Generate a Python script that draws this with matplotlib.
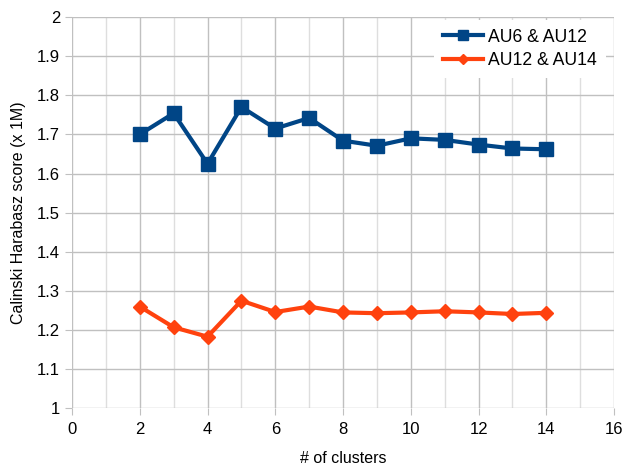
import matplotlib
matplotlib.use("Agg")
import matplotlib.pyplot as plt
from matplotlib.ticker import MultipleLocator

plt.rcParams['font.family'] = ['Liberation Sans', 'DejaVu Sans']

clusters = [2, 3, 4, 5, 6, 7, 8, 9, 10, 11, 12, 13, 14]
au6_au12 = [1.700, 1.754, 1.625, 1.770, 1.715, 1.742, 1.684, 1.671, 1.690, 1.686, 1.674, 1.664, 1.662]
au12_au14 = [1.260, 1.207, 1.183, 1.275, 1.246, 1.260, 1.245, 1.243, 1.245, 1.248, 1.245, 1.241, 1.244]

fig = plt.figure(figsize=(6.26, 4.68), dpi=100)
ax = fig.add_axes([0.115, 0.1276, 0.866, 0.836])

# lay each series
ax.plot(clusters, au6_au12, "-s", color="#004586", lw=3, ms=9.5, label="AU6 & AU12", zorder=3)
ax.plot(clusters, au12_au14, "-D", color="#ff420e", lw=3, ms=7, label="AU12 & AU14", zorder=3)

ax.set_xlim(0, 16)
ax.set_ylim(1, 2)
ax.xaxis.set_major_locator(MultipleLocator(2))
ax.xaxis.set_minor_locator(MultipleLocator(1))
ax.yaxis.set_major_locator(MultipleLocator(0.1))
ax.yaxis.set_major_formatter(plt.FuncFormatter(lambda v, p: f"{v:g}"))

ax.grid(which="major", color="#c0c0c0", lw=1)
ax.grid(which="minor", axis="x", color="#dedede", lw=1)
ax.set_axisbelow(True)
for s in ax.spines.values():
    s.set_visible(False)
ax.tick_params(which="major", length=5, color="#c0c0c0", labelsize=12)
ax.tick_params(axis="x", pad=5)
ax.tick_params(axis="y", pad=3.5)
ax.tick_params(which="minor", length=0)

ax.set_xlabel("# of clusters", fontsize=11.5, labelpad=10)
ax.set_ylabel("Calinski Harabasz score (x 1M)", fontsize=11.5, labelpad=8)

leg = ax.legend(loc="upper right", bbox_to_anchor=(0.985, 0.993), fontsize=12.7,
                frameon=True, fancybox=False, edgecolor="none", facecolor="white",
                framealpha=1, handlelength=2.3, handletextpad=0.3, markerscale=0.7,
                borderpad=0.5, labelspacing=0.35, borderaxespad=0)

fig.savefig("out.png", dpi=100)
